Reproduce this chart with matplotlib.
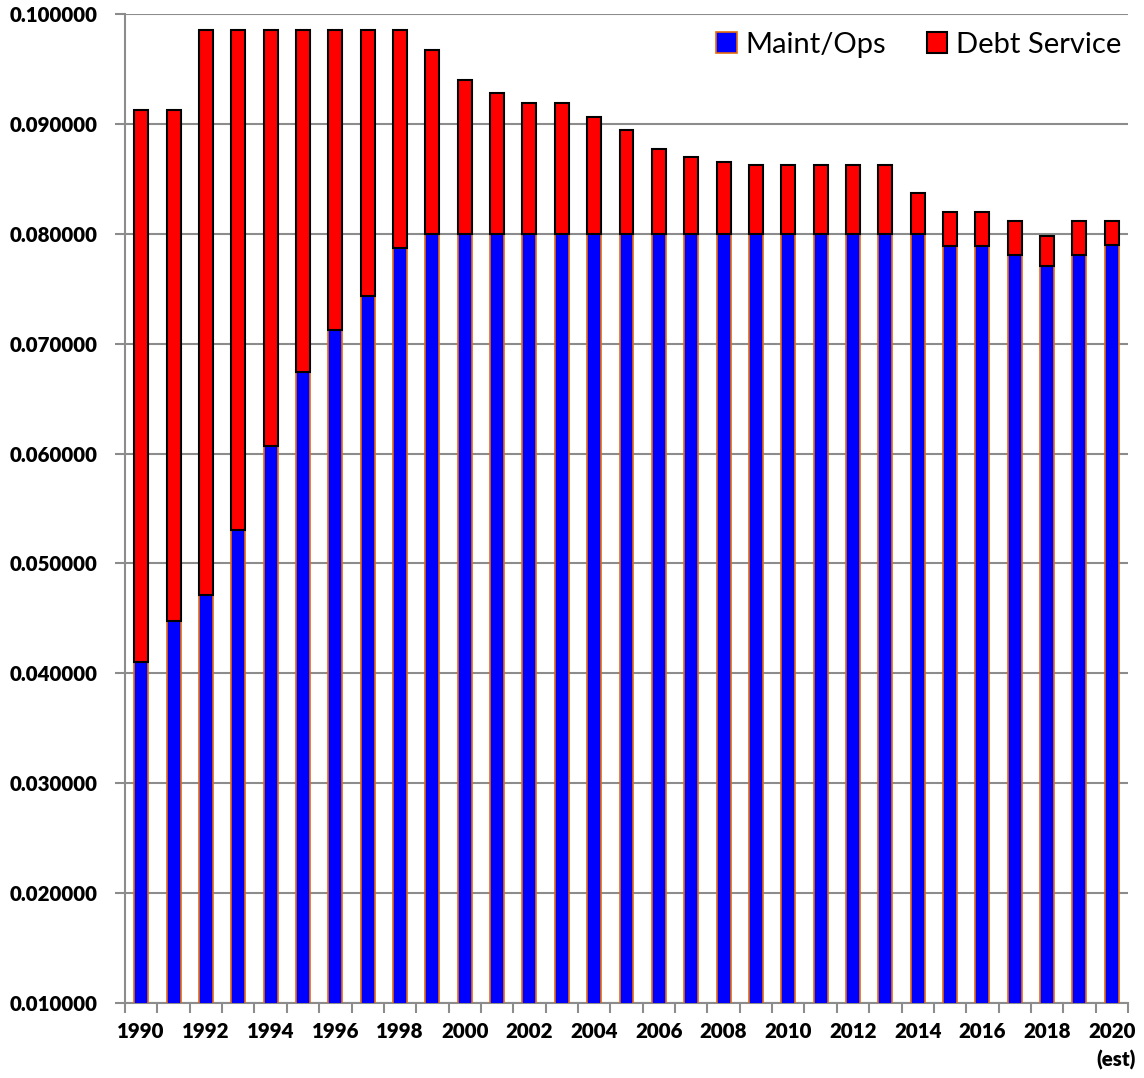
import matplotlib
matplotlib.use('Agg')
import matplotlib.pyplot as plt
import numpy as np

# values
years = list(range(1990, 2021))
maint_ops = [0.0410, 0.0448, 0.0471, 0.0530, 0.0607, 0.0674, 0.0712, 0.0743, 0.0787, 0.0800,
             0.0800, 0.0800, 0.0800, 0.0800, 0.0800, 0.0800, 0.0800, 0.0800, 0.0800, 0.0800,
             0.0800, 0.0800, 0.0800, 0.0800, 0.0800, 0.0789, 0.0789, 0.0781, 0.0771, 0.0781,
             0.0790]
debt_service = [0.0503, 0.0465, 0.0514, 0.0455, 0.0378, 0.0311, 0.0273, 0.0242, 0.0198, 0.0167,
                0.0140, 0.0128, 0.0119, 0.0119, 0.0106, 0.0094, 0.0077, 0.0070, 0.0065, 0.0063,
                0.0063, 0.0063, 0.0063, 0.0063, 0.0037, 0.0031, 0.0031, 0.0031, 0.0027, 0.0031,
                0.0022]
x_labels = [str(y) if y % 2 == 0 else '' for y in years]
x_labels[-1] = '2020\n(est)'

plt.rcParams['font.family'] = ['Lato', 'DejaVu Sans']
GRID = '#8c8c8c'

fig = plt.figure(figsize=(11.44, 10.78), dpi=100)
ax = fig.add_axes([0.1093, 0.0696, 0.8767, 0.9174])

x = np.arange(len(years))
w = 0.43
ax.bar(x, maint_ops, width=w, color='#0000ff', edgecolor='#e46c0a', linewidth=1.2,
       label='Maint/Ops', zorder=3)
ax.bar(x, debt_service, width=w, bottom=maint_ops, color='#ff0000', edgecolor='black',
       linewidth=1.5, label='Debt Service', zorder=3)

ax.set_xlim(-0.5, len(years) - 0.5)
ax.set_ylim(0.01, 0.10)
ax.set_yticks(np.arange(0.01, 0.1001, 0.01))
ax.yaxis.set_major_formatter(matplotlib.ticker.FormatStrFormatter('%.6f'))
ax.yaxis.grid(True, color=GRID, linewidth=1.5, zorder=0)

ax.set_xticks(x)
ax.set_xticklabels(x_labels)
ax.set_xticks(np.arange(-0.5, len(years)), minor=True)
ax.tick_params(axis='x', which='major', length=0, pad=14)
ax.tick_params(axis='x', which='minor', length=7, width=1.5, color=GRID)
ax.tick_params(axis='y', length=7, width=1.5, color=GRID, pad=13)
for lab in ax.get_xticklabels() + ax.get_yticklabels():
    lab.set_fontsize(14.8)
    lab.set_fontweight('heavy')
last = ax.get_xticklabels()[-1]
last.set_linespacing(1.5)
last.set_multialignment('right')

for s in ['top', 'right']:
    ax.spines[s].set_visible(False)
for s in ['left', 'bottom']:
    ax.spines[s].set_color(GRID)
    ax.spines[s].set_linewidth(1.5)

ax.legend(loc='upper right', bbox_to_anchor=(1.008, 0.997), ncol=2, frameon=False,
          fontsize=21, handlelength=0.7, handleheight=0.7, handletextpad=0.3,
          columnspacing=1.4, borderaxespad=0.1)

fig.savefig('out.png', dpi=100)
